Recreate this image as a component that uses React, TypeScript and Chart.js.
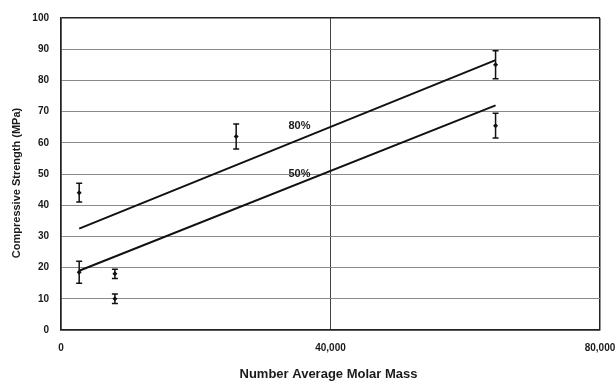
import React, { useEffect, useRef } from "react";
import { Chart, registerables } from "chart.js";

Chart.register(...registerables);

const molarMass = [2700, 2700, 8000, 8000, 26000, 64500, 64500];
const strength = [44, 18.5, 18, 10, 62, 85, 65.5];
const strengthErr = [3, 3.5, 1.5, 1.5, 4, 4.5, 4];

const fitMass = [2700, 64500];
const fit80 = [32.5, 86.5];
const fit50 = [19, 72];

const lineLabels = ["80%", "50%"];
const lineLabelMass = [35400, 35400];
const lineLabelStrength = [65.5, 50];

const xTicks = [0, 40000, 80000];
const xTitle = "Number Average Molar Mass";
const yTitle = "Compressive Strength (MPa)";

const FONT = "'Liberation Sans', Arial, sans-serif";

const overlayPlugin = {
  id: "overlay",
  afterDatasetsDraw(chart: any) {
    const { ctx, scales, chartArea } = chart;
    const xs = scales.x;
    const ys = scales.y;
    ctx.save();
    ctx.strokeStyle = "#111";
    ctx.fillStyle = "#111";
    ctx.lineWidth = 1.5;
    for (let i = 0; i < molarMass.length; i++) {
      const px = xs.getPixelForValue(molarMass[i]);
      const pTop = ys.getPixelForValue(strength[i] + strengthErr[i]);
      const pBot = ys.getPixelForValue(strength[i] - strengthErr[i]);
      ctx.beginPath();
      ctx.moveTo(px, pTop);
      ctx.lineTo(px, pBot);
      ctx.moveTo(px - 3, pTop);
      ctx.lineTo(px + 3, pTop);
      ctx.moveTo(px - 3, pBot);
      ctx.lineTo(px + 3, pBot);
      ctx.stroke();
    }
    ctx.fillStyle = "#1a1a1a";
    ctx.font = "bold 11px " + FONT;
    ctx.textAlign = "center";
    ctx.textBaseline = "middle";
    for (let i = 0; i < lineLabels.length; i++) {
      ctx.fillText(
        lineLabels[i],
        xs.getPixelForValue(lineLabelMass[i]),
        ys.getPixelForValue(lineLabelStrength[i])
      );
    }
    // x tick labels
    ctx.font = "bold 10px " + FONT;
    for (const v of xTicks) {
      ctx.fillText(v.toLocaleString("en-US"), xs.getPixelForValue(v), chartArea.bottom + 18);
    }
    // x title
    ctx.font = "bold 13px " + FONT;
    ctx.fillText(xTitle, (chartArea.left + chartArea.right) / 2 - 2, chartArea.bottom + 44);
    // y title
    ctx.font = "bold 11px " + FONT;
    ctx.translate(17, (chartArea.top + chartArea.bottom) / 2 + 9);
    ctx.rotate(-Math.PI / 2);
    ctx.fillText(yTitle, 0, 0);
    ctx.restore();
  },
};

export default function App() {
  const ref = useRef<HTMLCanvasElement>(null);
  useEffect(() => {
    if (!ref.current) return;
    const chart = new Chart(ref.current, {
      type: "scatter",
      data: {
        datasets: [
          {
            label: "80%",
            data: fitMass.map((m, i) => ({ x: m, y: fit80[i] })),
            showLine: true,
            borderColor: "#111",
            borderWidth: 2,
            pointRadius: 0,
          },
          {
            label: "50%",
            data: fitMass.map((m, i) => ({ x: m, y: fit50[i] })),
            showLine: true,
            borderColor: "#111",
            borderWidth: 2,
            pointRadius: 0,
          },
          {
            label: "data",
            data: molarMass.map((m, i) => ({ x: m, y: strength[i] })),
            pointStyle: "rectRot",
            pointRadius: 2.5,
            backgroundColor: "#111",
            borderColor: "#111",
            borderWidth: 0,
          },
        ],
      },
      options: {
        animation: false,
        responsive: false,
        layout: { padding: { top: 17, right: 15, left: 0, bottom: 0 } },
        plugins: { legend: { display: false }, tooltip: { enabled: false } },
        scales: {
          x: {
            type: "linear",
            min: 0,
            max: 80000,
            afterBuildTicks: (s: any) => {
              s.ticks = xTicks.map((v) => ({ value: v }));
            },
            afterFit: (s: any) => {
              s.height = 52;
            },
            grid: {
              drawTicks: false,
              color: (c: any) =>
                c.tick && c.tick.value === 40000 ? "#444" : "#222",
              lineWidth: (c: any) =>
                c.tick && c.tick.value === 40000 ? 1 : 1.5,
            },
            border: { display: true, color: "#222", width: 1.5 },
            ticks: { display: false },
            title: { display: false },
          },
          y: {
            min: 0,
            max: 100,
            afterFit: (s: any) => {
              s.width = 61;
            },
            grid: {
              drawTicks: false,
              color: (c: any) =>
                c.tick && (c.tick.value === 100 || c.tick.value === 0)
                  ? "#222"
                  : "#8a8a8a",
              lineWidth: (c: any) =>
                c.tick && (c.tick.value === 100 || c.tick.value === 0) ? 1.5 : 1,
            },
            border: { display: true, color: "#222", width: 1.5 },
            ticks: {
              stepSize: 10,
              padding: 12,
              color: "#1a1a1a",
              font: { family: FONT, size: 10, weight: "bold" },
            },
            title: { display: false },
          },
        },
      },
      plugins: [overlayPlugin],
    });
    return () => chart.destroy();
  }, []);
  return (
    <div style={{ position: "absolute", left: 0, top: 0, width: 615, height: 382, background: "#fff" }}>
      <canvas ref={ref} width={615} height={382} style={{ width: 615, height: 382 }} />
    </div>
  );
}
